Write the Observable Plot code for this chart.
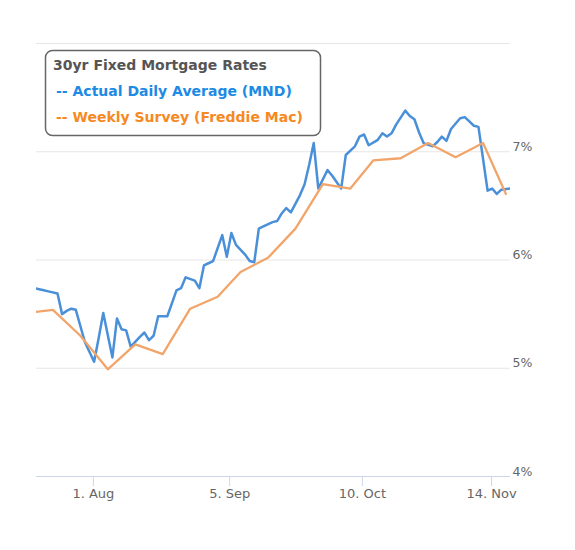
<!DOCTYPE html>
<html><head><meta charset="utf-8">
<script src="https://cdn.jsdelivr.net/npm/d3@7"></script>
<script src="https://cdn.jsdelivr.net/npm/@observablehq/plot@0.6"></script>
<style>html,body{margin:0;padding:0;background:#fff;} #chart{position:relative;width:575px;height:550px;}</style>
</head><body><div id="chart"></div>
<script>
// ---- data ----
const holidays = ["2022-09-05", "2022-10-10", "2022-11-11"];
const mndStart = "2022-07-15";
const mndEnd = "2022-11-17";
// MND actual daily average, one value per business day (holidays excluded)
const mndValues = [
  5.74,
  5.73, 5.72, 5.71, 5.69, 5.50,
  5.53, 5.55, 5.54, 5.24, 5.15,
  5.06, 5.28, 5.51, 5.10, 5.46,
  5.36, 5.35, 5.20, 5.29, 5.33,
  5.26, 5.30, 5.48, 5.48, 5.60,
  5.72, 5.74, 5.84, 5.81, 5.74,
  5.95, 5.97, 5.99, 6.23, 6.03,
  6.25, 6.14, 6.05, 5.99,
  5.98, 6.29, 6.31, 6.35, 6.36,
  6.43, 6.48, 6.44, 6.60, 6.70,
  6.88, 7.08, 6.66, 6.83, 6.78,
  6.72, 6.66, 6.97, 7.05, 7.14,
  7.16, 7.06, 7.11, 7.17,
  7.14, 7.17, 7.25, 7.38, 7.33,
  7.30, 7.18, 7.08, 7.05, 7.09,
  7.14, 7.10, 7.21, 7.31, 7.32,
  7.28, 7.24, 7.23, 6.64,
  6.66, 6.61, 6.65, 6.66
];
const freddieDates = ["2022-07-14","2022-07-21","2022-07-28","2022-08-04","2022-08-11","2022-08-18","2022-08-25",
  "2022-09-01","2022-09-08","2022-09-15","2022-09-22","2022-09-29","2022-10-06","2022-10-13","2022-10-20",
  "2022-10-27","2022-11-03","2022-11-10","2022-11-17"];
const freddieValues = [5.51, 5.54, 5.30, 4.99, 5.22, 5.13, 5.55, 5.66, 5.89, 6.02, 6.29, 6.70, 6.66, 6.92, 6.94, 7.08, 6.95, 7.08, 6.61];
const tickDates = ["2022-08-01", "2022-09-05", "2022-10-10", "2022-11-14"];
const tickLabels = ["1. Aug", "5. Sep", "10. Oct", "14. Nov"];
const yTicks = [4, 5, 6, 7];
const yGrid = [5, 6, 7, 8];
const legendTitle = "30yr Fixed Mortgage Rates";
const seriesNames = ["-- Actual Daily Average (MND)", "-- Weekly Survey (Freddie Mac)"];
const seriesColors = ["#4a90d9", "#f1a56a"];
const legendColors = ["#1d8ae4", "#f6891f"];

// ---- ordinal (business-day) axis like Highcharts Stock ----
const fmt = d3.utcFormat("%Y-%m-%d");
const parse = d3.utcParse("%Y-%m-%d");
const allDays = d3.utcDay.range(parse("2022-07-11"), d3.utcDay.offset(parse(mndEnd), 1));
const fredSet = new Set(freddieDates);
const holSet = new Set(holidays);
const slots = [];
for (const d of allDays) {
  const k = fmt(d);
  if (fredSet.has(k)) slots.push({key: "F" + k, time: +d});
  const wd = d.getUTCDay();
  if (wd > 0 && wd < 6 && !holSet.has(k)) slots.push({key: "M" + k, time: +d + 12 * 3600e3});
}
const slotIndex = new Map(slots.map((s, i) => [s.key, i]));
const mndDates = allDays.map(fmt).filter(k => k >= mndStart && slotIndex.has("M" + k));
const mndData = mndDates.map((k, i) => ({x: slotIndex.get("M" + k), y: mndValues[i]}));
const fredData = freddieDates.map((k, i) => ({x: slotIndex.get("F" + k), y: freddieValues[i]}));
const toSlot = d3.scaleLinear().domain(slots.map(s => s.time)).range(slots.map((s, i) => i));
const tickPos = tickDates.map(k => toSlot(+parse(k)));
const labelMap = new Map(tickPos.map((p, i) => [p, tickLabels[i]]));
const x0 = slotIndex.get("M2022-07-18") - 0.59;
const x1 = slotIndex.get("M" + mndEnd);

const plot = Plot.plot({
  width: 575, height: 550,
  marginTop: 43, marginRight: 65, marginBottom: 74, marginLeft: 36,
  style: {fontFamily: "DejaVu Sans", background: "transparent"},
  x: {domain: [x0, x1], axis: null},
  y: {domain: [4, 8], axis: null},
  marks: [
    Plot.ruleY(yGrid, {stroke: "#e6e6e6"}),
    Plot.ruleY([4], {stroke: "#ccd6eb"}),
    Plot.axisX(tickPos, {tickSize: 10, tickPadding: 2, stroke: "#ccd6eb", fill: "#666", fontSize: 13,
      label: null, tickFormat: d => labelMap.get(d)}),
    Plot.axisY(yTicks, {anchor: "right", tickSize: 0, tickPadding: 2, fill: "#666", fontSize: 12.5,
      label: null, dy: -5, textAnchor: "start", tickFormat: d => d + "%"}),
    Plot.line(mndData, {x: "x", y: "y", stroke: seriesColors[0], strokeWidth: 2.5, clip: true}),
    Plot.line(fredData, {x: "x", y: "y", stroke: seriesColors[1], strokeWidth: 2.3, clip: true})
  ]
});
document.getElementById("chart").appendChild(plot);

// legend box inside the chart
const svg = d3.select(plot);
const g = svg.append("g").attr("font-family", "DejaVu Sans").attr("font-weight", "bold")
  .attr("font-size", 14).attr("text-anchor", "start");
g.append("rect").attr("x", 45.5).attr("y", 50.5).attr("width", 275).attr("height", 85)
  .attr("rx", 7).attr("fill", "#fff").attr("stroke", "#666").attr("stroke-width", 1.5);
g.append("text").attr("x", 53).attr("y", 70).attr("fill", "#555").text(legendTitle);
seriesNames.forEach((s, i) => {
  g.append("text").attr("x", 56).attr("y", 96 + i * 25.5).attr("fill", legendColors[i]).text(s);
});
</script>
</body></html>
